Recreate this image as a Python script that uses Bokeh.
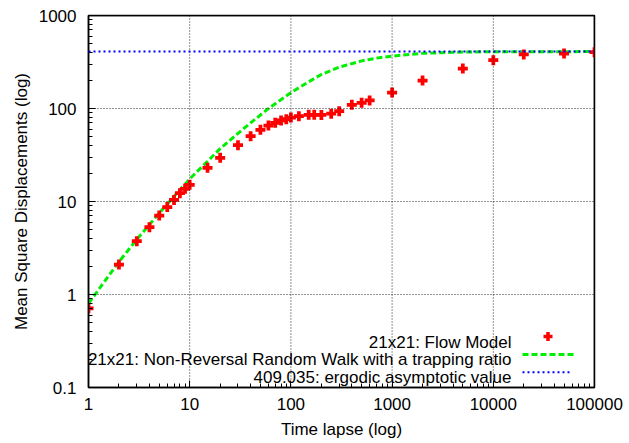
from bokeh.plotting import figure
from bokeh.models import FixedTicker, Span, Label, Arrow
from bokeh.embed import file_html
from bokeh.resources import INLINE

# ---------------- data ----------------
time_flow = [1, 2, 3, 4, 5, 6, 7, 8, 9, 10, 15, 20, 30, 40, 50, 60, 70, 80, 90,
             100, 120, 150, 170, 200, 250, 300, 400, 500, 600, 1000, 2000, 5000,
             10000, 20000, 50000, 100000]
msd_flow = [0.71, 2.1, 3.74, 5.3, 7.06, 8.7, 10.4, 12.3, 13.7, 15.1, 23.0, 29.5,
            40.3, 50.4, 59.0, 65.6, 70.2, 74.3, 76.7, 80.0, 82.7, 85.6, 85.5, 85.3,
            88.0, 93.5, 109.6, 115.0, 122.0, 148.6, 200.0, 269.0, 331.0, 381.0,
            390.0, 403.0]

time_nrrw = [1, 2, 3, 5, 7, 10, 15, 20, 30, 40, 60, 100, 150, 200, 300, 500, 700,
             1000, 2000, 5000, 10000, 100000]
msd_nrrw = [0.8, 2.25, 3.9, 7.5, 11.3, 17.5, 27.0, 37.0, 54.0, 70.0, 100.0, 148.0,
            194.0, 232.0, 278.0, 325.0, 348.0, 366.0, 392.0, 405.0, 408.0, 409.0]

ergodic_value = 409.035

x_ticks = [1, 10, 100, 1000, 10000, 100000]
x_tick_labels = ["1", "10", "100", "1000", "10000", "100000"]
y_ticks = [0.1, 1, 10, 100, 1000]
y_tick_labels = ["0.1", "1", "10", "100", "1000"]

legend_labels = ["21x21: Flow Model",
                 "21x21: Non-Reversal Random Walk with a trapping ratio",
                 "409.035: ergodic asymptotic value"]
x_title = "Time lapse (log)"
y_title = "Mean Square Displacements (log)"

# ---------------- styling ----------------
FONT = "Liberation Sans"
FS = "17px"
RED = "#ff0000"
GREEN = "#00ee00"
BLUE = "#0000ff"


def minor_of(majors):
    out = []
    for t in majors[:-1]:
        out.extend([t * m for m in range(2, 10)])
    return out


p = figure(width=629, height=443, x_axis_type="log", y_axis_type="log",
           x_range=(x_ticks[0], x_ticks[-1]), y_range=(y_ticks[0], y_ticks[-1]),
           output_backend="svg", toolbar_location=None,
           min_border_left=88, min_border_right=35, min_border_top=15,
           min_border_bottom=56)
p.outline_line_color = "black"
p.outline_line_width = 1.5
p.outline_line_alpha = 1.0

xa = p.xaxis[0]
ya = p.yaxis[0]
xa.ticker = FixedTicker(ticks=x_ticks, minor_ticks=minor_of(x_ticks))
ya.ticker = FixedTicker(ticks=y_ticks, minor_ticks=minor_of(y_ticks))
p.xgrid.visible = False
p.ygrid.visible = False

for ax in (xa, ya):
    ax.axis_line_width = 1.5
    ax.major_tick_in = 7
    ax.major_tick_out = 0
    ax.minor_tick_in = 4
    ax.minor_tick_out = 0
    ax.major_label_text_font = FONT
    ax.major_label_text_color = "black"
    ax.major_label_text_font_size = FS
    ax.axis_label_text_font = FONT
    ax.axis_label_text_font_size = FS
    ax.axis_label_text_font_style = "normal"
    ax.axis_label_text_color = "black"

xa.major_label_overrides = {t: s for t, s in zip(x_ticks, x_tick_labels)}
ya.major_label_overrides = {t: s for t, s in zip(y_ticks, y_tick_labels)}
xa.major_label_standoff = 10
ya.major_label_standoff = 12
xa.axis_label = x_title
ya.axis_label = y_title
xa.axis_label_standoff = 7
ya.axis_label_standoff = 5

# dotted grid at the major decades (drawn as spans)
for t in x_ticks[1:-1]:
    p.add_layout(Span(location=t, dimension="height", line_color="black",
                      line_alpha=0.85, line_width=1, line_dash="1 2"))
for t in y_ticks[1:-1]:
    p.add_layout(Span(location=t, dimension="width", line_color="black",
                      line_alpha=0.85, line_width=1, line_dash="1 2"))
# top and right frame border
p.add_layout(Span(location=x_ticks[-1], dimension="height", line_color="black",
                  line_width=1.5))
p.add_layout(Span(location=y_ticks[-1], dimension="width", line_color="black",
                  line_width=1.5))

# ---------------- series ----------------
p.add_layout(Span(location=ergodic_value, dimension="width", line_color=BLUE,
                  line_width=2, line_dash="2 3"))
p.line(time_nrrw, msd_nrrw, line_color=GREEN, line_width=3, line_dash="6 3")
p.scatter(time_flow, msd_flow, marker="plus", size=10, fill_color=RED,
          line_color=None)

# ---------------- legend (gnuplot style: text right, sample left) ----------------
text_right = 423
baselines = [45.5, 27.8, 9.8]
for lab, yb in zip(legend_labels, baselines):
    p.add_layout(Label(x=text_right, y=yb, x_units="screen", y_units="screen",
                       text=lab, text_align="right", text_baseline="alphabetic",
                       text_font=FONT, text_font_size=FS, text_color="black"))

sx0, sx1 = 434, 485
cx, cy = 459.5, 51
p.add_layout(Arrow(start=None, end=None, x_start=cx - 4.5, y_start=cy,
                   x_end=cx + 4.5, y_end=cy, start_units="screen",
                   end_units="screen", line_color=RED, line_width=3.5))
p.add_layout(Arrow(start=None, end=None, x_start=cx, y_start=cy - 4.5,
                   x_end=cx, y_end=cy + 4.5, start_units="screen",
                   end_units="screen", line_color=RED, line_width=3.5))
p.add_layout(Arrow(start=None, end=None, x_start=sx0, y_start=33, x_end=sx1,
                   y_end=33, start_units="screen", end_units="screen",
                   line_color=GREEN, line_width=3, line_dash="6 3"))
p.add_layout(Arrow(start=None, end=None, x_start=sx0, y_start=15.3, x_end=sx1 - 3,
                   y_end=15.3, start_units="screen", end_units="screen",
                   line_color=BLUE, line_width=2, line_dash="2 3"))

open("out.html", "w").write(file_html(p, INLINE))
